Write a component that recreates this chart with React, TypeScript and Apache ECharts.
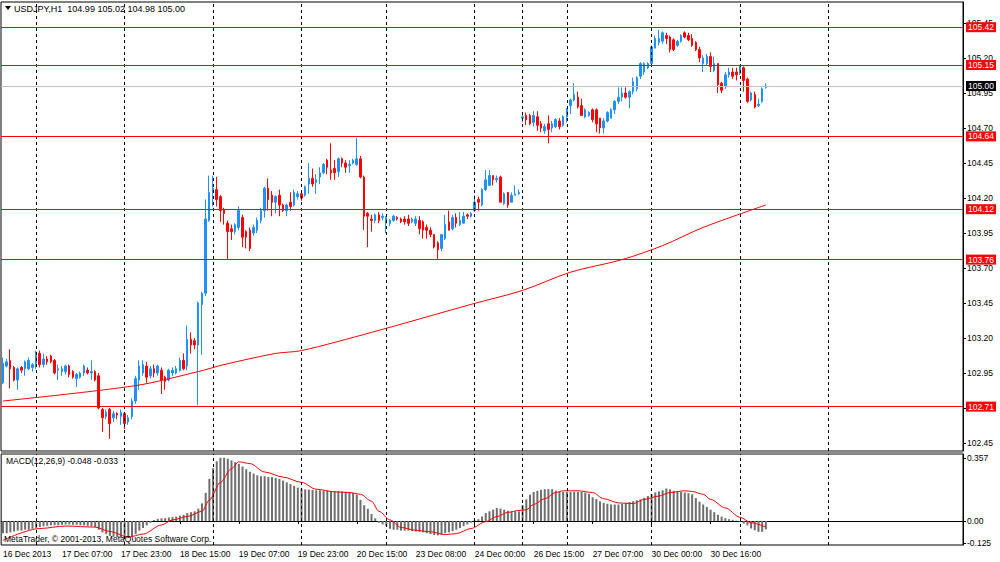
import React, { useEffect, useRef } from "react";
import * as echarts from "echarts";

// [open, high, low, close] per H1 bar
const ohlc: number[][] = [
  [102.88,103.06,102.87,103.02],[103.00,103.05,102.99,103.03],[103.04,103.12,102.84,102.98],[102.99,103.00,102.89,102.90],
  [102.90,102.99,102.83,102.98],[102.99,103.00,102.95,102.97],[102.98,103.04,102.93,103.03],[102.98,103.06,102.97,103.04],
  [102.99,103.02,102.96,103.01],[103.02,103.11,102.98,103.10],[103.09,103.11,102.99,103.01],[103.01,103.09,102.99,103.05],
  [103.05,103.07,103.01,103.03],[103.07,103.08,103.02,103.03],[103.04,103.05,102.94,102.95],[102.97,103.01,102.90,102.98],
  [102.96,103.00,102.93,102.98],[102.96,103.01,102.94,103.00],[103.00,103.01,102.92,102.94],[102.96,102.97,102.91,102.92],
  [102.91,102.95,102.85,102.94],[102.92,102.96,102.91,102.95],[102.95,103.01,102.93,103.00],[102.97,102.99,102.94,102.95],
  [102.95,103.04,102.90,102.96],[102.96,102.97,102.89,102.90],[102.93,102.95,102.69,102.70],[102.69,102.70,102.53,102.63],
  [102.64,102.69,102.62,102.67],[102.69,102.70,102.48,102.59],[102.63,102.68,102.60,102.66],[102.66,102.67,102.62,102.65],
  [102.64,102.69,102.58,102.67],[102.66,102.67,102.55,102.59],[102.60,102.65,102.58,102.63],[102.64,102.77,102.62,102.75],
  [102.75,102.93,102.73,102.91],[102.90,103.04,102.83,103.00],[102.95,103.04,102.93,103.01],[103.00,103.03,102.88,102.92],
  [102.93,103.00,102.91,102.98],[102.98,103.01,102.92,102.95],[102.95,103.01,102.93,103.00],[102.97,102.99,102.80,102.90],
  [102.92,102.93,102.83,102.89],[102.90,102.98,102.89,102.97],[102.95,102.99,102.93,102.97],[102.95,103.00,102.94,102.98],
  [102.97,103.06,102.96,103.04],[103.04,103.09,102.97,102.98],[103.00,103.29,102.97,103.19],[103.19,103.24,103.09,103.15],
  [103.18,103.20,103.12,103.15],[103.15,103.46,102.72,103.45],[103.44,103.53,103.08,103.52],[103.52,104.19,103.50,104.05],
  [104.04,104.36,104.03,104.24],[104.24,104.36,104.14,104.27],[104.26,104.35,104.14,104.19],[104.21,104.22,104.03,104.11],
  [104.12,104.13,104.01,104.09],[104.02,104.04,103.76,103.96],[103.98,104.01,103.90,103.96],[103.96,104.02,103.94,104.01],
  [103.99,104.14,103.97,104.11],[104.06,104.08,103.85,103.92],[103.96,103.97,103.84,103.92],[103.97,103.99,103.82,103.84],
  [103.95,104.01,103.93,103.99],[103.97,104.06,103.95,104.04],[104.04,104.13,104.02,104.11],[104.11,104.28,104.06,104.27],
  [104.27,104.34,104.11,104.19],[104.22,104.25,104.07,104.17],[104.17,104.22,104.09,104.21],[104.22,104.26,104.07,104.15],
  [104.15,104.16,104.10,104.11],[104.11,104.16,104.07,104.15],[104.17,104.24,104.11,104.14],[104.15,104.26,104.14,104.24],
  [104.21,104.25,104.19,104.23],[104.23,104.25,104.18,104.20],[104.22,104.29,104.21,104.28],[104.30,104.45,104.23,104.34],
  [104.34,104.41,104.28,104.30],[104.31,104.37,104.23,104.33],[104.35,104.42,104.30,104.38],[104.38,104.45,104.37,104.44],
  [104.47,104.48,104.37,104.42],[104.40,104.59,104.33,104.38],[104.41,104.47,104.33,104.38],[104.39,104.49,104.35,104.48],
  [104.48,104.49,104.42,104.45],[104.45,104.47,104.38,104.42],[104.43,104.47,104.38,104.44],[104.45,104.48,104.44,104.47],
  [104.44,104.63,104.43,104.48],[104.48,104.50,104.34,104.35],[104.35,104.36,103.97,104.07],[104.09,104.10,103.85,104.07],
  [104.05,104.08,103.96,104.04],[104.04,104.09,104.02,104.08],[104.08,104.10,104.02,104.04],[104.06,104.09,104.04,104.07],
  [104.02,104.07,103.95,104.06],[104.02,104.05,104.00,104.04],[104.04,104.08,104.03,104.07],[104.06,104.07,104.04,104.05],
  [104.05,104.06,104.02,104.03],[104.05,104.07,104.01,104.03],[104.05,104.08,104.00,104.02],[104.03,104.06,104.02,104.05],
  [104.02,104.07,104.00,104.05],[104.04,104.07,103.94,103.98],[104.03,104.04,103.91,103.97],[103.99,104.01,103.91,103.97],
  [103.97,103.99,103.92,103.94],[103.94,103.94,103.84,103.85],[103.88,103.89,103.76,103.83],[103.84,103.94,103.82,103.94],
  [103.91,104.08,103.90,104.01],[104.03,104.11,103.97,103.97],[103.98,104.08,103.97,104.06],[104.06,104.09,103.99,104.02],
  [104.01,104.10,104.00,104.04],[104.02,104.10,104.02,104.07],[104.08,104.09,104.05,104.07],[104.07,104.10,104.06,104.09],
  [104.11,104.22,104.10,104.17],[104.19,104.21,104.11,104.17],[104.15,104.27,104.14,104.26],[104.26,104.40,104.25,104.33],
  [104.29,104.40,104.29,104.36],[104.36,104.36,104.29,104.33],[104.33,104.36,104.31,104.34],[104.35,104.36,104.17,104.17],
  [104.16,104.24,104.15,104.23],[104.24,104.24,104.13,104.15],[104.17,104.24,104.17,104.22],[104.22,104.29,104.22,104.23],
  [104.23,104.26,104.22,104.24],[104.77,104.80,104.74,104.78],[104.79,104.81,104.72,104.76],[104.79,104.80,104.72,104.73],
  [104.74,104.82,104.71,104.79],[104.78,104.82,104.68,104.72],[104.73,104.75,104.67,104.70],[104.68,104.73,104.66,104.71],
  [104.73,104.79,104.59,104.69],[104.70,104.75,104.67,104.73],[104.71,104.77,104.70,104.76],[104.75,104.77,104.69,104.71],
  [104.72,104.79,104.71,104.78],[104.78,104.84,104.74,104.84],[104.86,104.91,104.80,104.90],[104.90,105.02,104.89,104.94],
  [104.92,104.96,104.84,104.85],[104.86,104.91,104.79,104.79],[104.78,104.84,104.77,104.83],[104.79,104.82,104.78,104.81],
  [104.83,104.84,104.74,104.76],[104.83,104.84,104.67,104.73],[104.77,104.77,104.66,104.70],[104.70,104.77,104.66,104.75],
  [104.75,104.82,104.74,104.81],[104.77,104.84,104.77,104.83],[104.83,104.90,104.80,104.89],[104.89,104.99,104.87,104.92],
  [104.92,104.99,104.89,104.95],[104.95,104.99,104.91,104.92],[104.92,104.97,104.84,104.96],[104.96,105.06,104.94,105.03],
  [104.98,105.07,104.96,105.06],[105.07,105.17,105.05,105.16],[105.10,105.17,105.08,105.16],[105.13,105.17,105.12,105.16],
  [105.16,105.29,105.15,105.28],[105.27,105.36,105.27,105.34],[105.31,105.40,105.29,105.34],[105.32,105.39,105.30,105.38],
  [105.36,105.38,105.30,105.34],[105.35,105.36,105.24,105.26],[105.33,105.34,105.25,105.26],[105.29,105.33,105.28,105.32],
  [105.32,105.37,105.31,105.36],[105.38,105.39,105.34,105.35],[105.36,105.38,105.32,105.33],[105.34,105.37,105.28,105.29],
  [105.31,105.32,105.25,105.26],[105.26,105.28,105.17,105.20],[105.16,105.22,105.10,105.20],[105.16,105.23,105.15,105.21],
  [105.21,105.24,105.10,105.14],[105.11,105.21,105.10,105.16],[105.16,105.16,104.95,105.01],[105.02,105.03,104.95,104.97],
  [105.00,105.10,104.98,105.08],[105.08,105.13,105.06,105.10],[105.10,105.13,105.05,105.07],[105.10,105.13,105.04,105.08],
  [105.09,105.14,105.08,105.14],[105.13,105.14,104.96,105.04],[105.05,105.06,104.88,104.89],[104.90,104.96,104.89,104.95],
  [104.94,104.96,104.84,104.85],[104.86,104.91,104.85,104.87],[104.89,104.99,104.88,104.98],[104.99,105.02,104.98,105.00],
];

// moving average read at points [barIndex, price]
const maPoints: number[][] = [
  [0,102.75],[36,102.86],[53,102.96],[60,103.01],[74,103.09],[81,103.11],[100,103.24],[127,103.44],
  [141,103.54],[154,103.67],[168,103.76],[179,103.86],[190,103.99],[207,104.15],
];

// MACD histogram per bar
const macdHist: number[] = [
  -0.07,-0.07,-0.065,-0.06,-0.055,-0.055,-0.05,-0.05,-0.045,-0.04,-0.035,-0.03,-0.028,-0.025,
  -0.025,-0.025,-0.022,-0.02,-0.02,-0.022,-0.022,-0.025,-0.025,-0.028,-0.03,-0.035,
  -0.05,-0.065,-0.075,-0.085,-0.09,-0.092,-0.095,-0.1,-0.098,-0.09,-0.075,-0.055,-0.04,-0.025,-0.01,
  0.005,0.012,0.015,0.016,0.02,0.022,0.025,0.03,0.035,0.045,0.05,0.055,0.07,
  0.10,0.16,0.24,0.30,0.34,0.36,0.36,0.355,0.345,0.335,0.325,0.31,0.295,0.28,
  0.27,0.26,0.255,0.255,0.25,0.25,0.245,0.24,0.23,0.22,0.21,0.2,0.19,0.185,0.18,
  0.178,0.176,0.175,0.175,0.172,0.172,0.17,0.17,0.17,0.168,0.166,0.165,0.16,
  0.15,0.12,0.09,0.07,0.04,0.015,-0.01,-0.02,-0.03,
  -0.045,-0.05,-0.05,-0.055,-0.055,-0.055,-0.058,-0.06,-0.062,-0.065,-0.07,-0.075,-0.08,
  -0.082,-0.078,-0.07,-0.065,-0.058,-0.05,-0.04,-0.03,-0.02,-0.01,0.003,
  0.01,0.025,0.045,0.055,0.065,0.074,0.07,0.064,0.058,0.055,0.055,0.055,
  0.09,0.123,0.15,0.165,0.172,0.178,0.181,0.181,0.181,
  0.172,0.168,0.166,0.166,0.166,0.166,0.166,0.165,0.162,0.155,
  0.135,0.125,0.112,0.103,0.098,0.094,0.094,0.094,0.098,0.103,
  0.108,0.113,0.118,0.123,0.132,0.142,0.152,0.162,0.168,0.175,
  0.185,0.18,0.172,0.168,0.165,0.162,0.158,0.152,0.13,0.11,
  0.094,0.08,0.064,0.05,0.035,0.025,0.016,0.01,0.006,0.002,
  -0.004,-0.015,-0.025,-0.043,-0.053,-0.062,-0.062,-0.048,
];

// MACD signal line read at points [barIndex, value]
const signalPoints: number[][] = [
  [0,-0.11],[10,-0.043],[17,-0.029],[25,-0.035],[29,-0.06],[34,-0.092],[38,-0.075],[43,-0.023],
  [46,0.006],[50,0.025],[54,0.055],[56,0.12],[59,0.22],[62,0.298],[64,0.337],[67,0.327],[71,0.279],
  [76,0.25],[81,0.22],[85,0.181],[90,0.166],[94,0.162],[97,0.152],[100,0.113],[102,0.055],[105,0.006],
  [108,-0.037],[112,-0.053],[116,-0.062],[120,-0.078],[123,-0.072],[127,-0.043],[131,-0.004],[134,0.025],
  [137,0.049],[140,0.06],[142,0.064],[144,0.094],[147,0.127],[150,0.162],[152,0.172],[156,0.172],
  [160,0.162],[163,0.127],[167,0.103],[171,0.099],[174,0.123],[178,0.142],[181,0.162],[185,0.172],
  [187,0.168],[190,0.152],[192,0.123],[196,0.074],[200,0.021],[203,-0.01],[207,-0.035],
];

const levelLines: number[] = [105.42, 105.15, 104.64, 104.12, 103.76, 102.71];
const bidLine = 105.0;
const dayLines: number[] = [9, 33, 57, 81, 104, 128, 141, 153, 176, 200, 224];
const timeLabelIdx: number[] = [0, 16, 32, 48, 64, 80, 96, 112, 128, 144, 160, 176, 192];
const timeLabels: string[] = [
  "16 Dec 2013", "17 Dec 07:00", "17 Dec 23:00", "18 Dec 15:00", "19 Dec 07:00", "19 Dec 23:00",
  "20 Dec 15:00", "23 Dec 08:00", "24 Dec 00:00", "26 Dec 15:00", "27 Dec 07:00", "30 Dec 00:00", "30 Dec 16:00",
];
const priceTicks: number[] = [102.45, 102.7, 102.95, 103.2, 103.45, 103.7, 103.95, 104.2, 104.45, 104.7, 104.95, 105.2, 105.45];
const macdTicks: number[] = [-0.125, 0, 0.357];
const SLOTS = 261;

const FONT = "'Liberation Sans', Arial, sans-serif";

function buildOption() {
  const cats = Array.from({ length: SLOTS }, (_, i) => String(i));
  const candleData = ohlc.map(([o, h, l, c]) => [o, c, l, h]);
  const labelMap: Record<number, string> = {};
  timeLabelIdx.forEach((k, j) => (labelMap[k] = timeLabels[j]));
  const showIdx = (i: number) => labelMap[i] !== undefined;

  const hLines: any[] = levelLines.map((v) => ({
    yAxis: v,
    lineStyle: { color: "#ff0000", width: 1, type: "solid" },
    label: {
      show: true, position: "end", distance: 3, formatter: v.toFixed(2),
      backgroundColor: "#ff0000", color: "#ffffff", padding: [1, 2, 0, 2], fontSize: 8.5, fontFamily: FONT,
    },
  }));
  hLines.push({
    yAxis: bidLine,
    lineStyle: { color: "#c0c0c0", width: 1, type: "solid" },
    label: {
      show: true, position: "end", distance: 3, formatter: bidLine.toFixed(2),
      backgroundColor: "#000000", color: "#ffffff", padding: [1, 2, 0, 2], fontSize: 8.5, fontFamily: FONT,
    },
  });

  const vLineStyle = { color: "#000", type: [3, 3] as any, width: 1 };

  return {
    animation: false,
    backgroundColor: "#ffffff",
    textStyle: { fontFamily: FONT },
    grid: [
      { left: 1, top: 2, width: 962, height: 449, show: true, borderColor: "#000", borderWidth: 1, backgroundColor: "#fff" },
      { left: 1, top: 454, width: 962, height: 91, show: true, borderColor: "#000", borderWidth: 1, backgroundColor: "#fff" },
    ],
    xAxis: [
      { type: "category", gridIndex: 0, data: cats, boundaryGap: true, show: false },
      {
        type: "category", gridIndex: 1, data: cats, boundaryGap: true,
        axisLine: { show: true, lineStyle: { color: "#000", width: 1 } },
        axisTick: { show: true, alignWithLabel: true, interval: (i: number) => showIdx(i), length: 3, lineStyle: { color: "#000" } },
        axisLabel: {
          show: true, interval: (i: number) => showIdx(i), formatter: (_v: string, i: number) => labelMap[i] || "",
          align: "left", margin: 4, fontSize: 8.5, color: "#000", fontFamily: FONT,
        },
        splitLine: { show: false },
      },
    ],
    yAxis: [
      {
        type: "value", gridIndex: 0, position: "right", min: 102.393, max: 105.6, scale: true,
        axisLine: { show: true, lineStyle: { color: "#000" } },
        axisTick: { show: true, customValues: priceTicks, length: 3, lineStyle: { color: "#000" } },
        axisLabel: { show: true, customValues: priceTicks, formatter: (v: number) => v.toFixed(2), margin: 4, fontSize: 8.5, color: "#000", fontFamily: FONT },
        splitLine: { show: false },
      },
      {
        type: "value", gridIndex: 1, position: "right", min: -0.137, max: 0.3815,
        axisLine: { show: true, lineStyle: { color: "#000" } },
        axisTick: { show: true, customValues: macdTicks, length: 3, lineStyle: { color: "#000" } },
        axisLabel: {
          show: true, customValues: macdTicks, margin: 4, fontSize: 8.5, color: "#000", fontFamily: FONT,
          formatter: (v: number) => (v === 0 ? "0.00" : v.toFixed(3)),
        },
        splitLine: { show: false },
      },
    ],
    series: [
      {
        type: "line", xAxisIndex: 0, yAxisIndex: 0, data: [], z: 1, silent: true,
        markLine: { silent: true, symbol: "none", label: { show: false }, lineStyle: vLineStyle, data: dayLines.map((i) => ({ xAxis: i })) },
      },
      {
        type: "line", xAxisIndex: 1, yAxisIndex: 1, data: [], z: 1, silent: true,
        markLine: { silent: true, symbol: "none", label: { show: false }, lineStyle: vLineStyle, data: dayLines.map((i) => ({ xAxis: i })) },
      },
      {
        type: "candlestick", xAxisIndex: 0, yAxisIndex: 0, data: candleData, barWidth: 2, z: 3,
        itemStyle: { color: "#1E90FF", color0: "#FF0000", borderColor: "#1E90FF", borderColor0: "#FF0000", borderWidth: 1 },
      },
      {
        type: "line", xAxisIndex: 0, yAxisIndex: 0, data: maPoints, smooth: 0.3, showSymbol: false, symbol: "none", z: 4,
        lineStyle: { color: "#ff0000", width: 1 },
      },
      {
        type: "line", xAxisIndex: 0, yAxisIndex: 0, data: [], z: 5, silent: true,
        markLine: { silent: true, symbol: "none", data: hLines },
      },
      {
        type: "bar", xAxisIndex: 1, yAxisIndex: 1, data: macdHist, barWidth: 2, z: 3,
        itemStyle: { color: "#6e6e6e" },
      },
      {
        type: "line", xAxisIndex: 1, yAxisIndex: 1, data: signalPoints, smooth: 0.3, smoothMonotone: "x", symbol: "none", showSymbol: false, z: 4,
        lineStyle: { color: "#ff0000", width: 1 },
      },
    ],
    graphic: [
      { type: "rect", shape: { x: 1, y: 451, width: 962, height: 3 }, style: { fill: "#8a8a8a" }, z: 10 },
      { type: "polygon", shape: { points: [[5, 6], [11, 6], [8, 10]] }, style: { fill: "#000" }, z: 10 },
      {
        type: "text", x: 14, y: 9, z: 10,
        style: { text: "USDJPY,H1  104.99 105.02 104.98 105.00", fill: "#000", font: `9px ${FONT}`, verticalAlign: "middle" },
      },
      {
        type: "text", x: 6, y: 461, z: 10,
        style: { text: "MACD(12,26,9) -0.048 -0.033", fill: "#000", font: `8.5px ${FONT}`, verticalAlign: "middle" },
      },
      {
        type: "text", x: 4, y: 539, z: 10,
        style: { text: "MetaTrader, © 2001-2013, MetaQuotes Software Corp.", fill: "#000", font: `8.5px ${FONT}`, verticalAlign: "middle" },
      },
    ],
  };
}

export default function App() {
  const ref = useRef<HTMLDivElement>(null);
  useEffect(() => {
    document.body.style.margin = "0";
    const chart = echarts.init(ref.current as HTMLDivElement, null, { renderer: "svg" });
    chart.setOption(buildOption() as any);
    return () => chart.dispose();
  }, []);
  return <div ref={ref} style={{ width: 1000, height: 562, background: "#fff" }} />;
}
